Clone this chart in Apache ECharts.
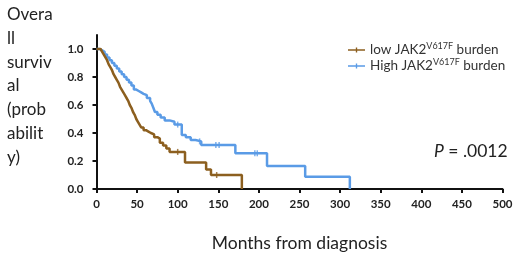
<!DOCTYPE html>
<html><head><meta charset="utf-8">
<script src="https://cdn.jsdelivr.net/npm/echarts@6/dist/echarts.min.js"></script>
<style>html,body{margin:0;padding:0;background:#fff}#c{width:520px;height:258px}</style>
</head><body><div id="c"></div>
<script>
const lowTimes = [0,5,7,9,11,13,15,17,19,21,23,25,27,29,31,33,35,37,39,41,43,45,47,49,51,53,55,58,61,64,67,71,75,78,82,86,90,109,135,141,179];
const lowSurv  = [1.0,0.99,0.98,0.96,0.94,0.92,0.89,0.87,0.85,0.82,0.80,0.78,0.76,0.73,0.71,0.69,0.67,0.65,0.63,0.60,0.58,0.55,0.53,0.50,0.48,0.46,0.44,0.42,0.41,0.40,0.39,0.37,0.36,0.33,0.31,0.29,0.265,0.19,0.14,0.10,0.0];
const highTimes = [0,4,7,10,13,16,19,22,25,28,31,34,37,40,43,46,49,52,55,58,62,66,68,70,72,75,79,84,90,96,105,110,116,122,129,171,210,257,312];
const highSurv  = [1.0,0.99,0.98,0.96,0.94,0.92,0.90,0.88,0.86,0.84,0.82,0.80,0.78,0.76,0.74,0.71,0.70,0.69,0.68,0.67,0.65,0.63,0.61,0.58,0.55,0.53,0.51,0.49,0.48,0.46,0.386,0.37,0.35,0.34,0.314,0.255,0.164,0.088,0.0];
const lowCensorT = [100,148];
const lowCensorS = [0.265,0.10];
const highCensorT = [100,127,147,151,195,198];
const highCensorS = [0.46,0.34,0.314,0.314,0.255,0.255];
const xTicks = [0,50,100,150,200,250,300,350,400,450,500];
const yTicks = [0,0.2,0.4,0.6,0.8,1.0];
const seriesNames = ['low', 'High'];

const brown = '#8C5F1F', blue = '#5A9BE6';
const zip = (a,b) => a.map((v,i)=>[v,b[i]]);
const chart = echarts.init(document.getElementById('c'));
const font = 'Lato, "Open Sans", sans-serif';
const iconPath = 'path://M0,3h20v1.6h-20z M9.2,1h1.6v5.6h-1.6z';
chart.setOption({
  animation:false,
  textStyle:{fontFamily:font},
  grid:{left:96.5, right:17.5, top:35, bottom:69},
  legend:{
    orient:'vertical', left:343, top:37, itemGap:1, itemWidth:17, itemHeight:7,
    data:[{name:seriesNames[0], icon:iconPath},{name:seriesNames[1], icon:iconPath}],
    formatter: n => '{a|' + n + ' JAK2}{s|V617F}{a| burden}',
    textStyle:{color:'#333', rich:{a:{fontSize:13.5, fontFamily:font, color:'#333'}, s:{fontSize:9, fontFamily:font, color:'#333', verticalAlign:'top', padding:[0,0,7,0]}}}
  },
  xAxis:{type:'value', min:0, max:500, interval:50,
    axisLine:{lineStyle:{color:'#111', width:2}},
    axisTick:{show:true, length:4, lineStyle:{color:'#111', width:2}},
    axisLabel:{color:'#222', fontWeight:'bold', fontSize:11.5, margin:9, fontFamily:font, customValues:xTicks},
    splitLine:{show:false},
    name:'Months from diagnosis', nameLocation:'middle', nameGap:45,
    nameTextStyle:{fontSize:17.5, color:'#222', fontFamily:font}
  },
  yAxis:{type:'value', min:0, max:1.1, interval:0.2,
    axisLine:{show:true, lineStyle:{color:'#111', width:2}},
    axisTick:{show:true, length:4, lineStyle:{color:'#111', width:2}, customValues:yTicks},
    axisLabel:{color:'#222', fontWeight:'bold', fontSize:11.5, margin:13, fontFamily:font, customValues:yTicks, formatter:v=>v.toFixed(1)},
    splitLine:{show:false}
  },
  graphic:[
    {type:'text', left:7, top:3, style:{text:'Overa\nll\nsurviv\nal\n(prob\nabilit\ny)', font:'17px '+font, fill:'#222', lineHeight:23.7}},
    {type:'text', left:434, top:142, style:{text:'{i|P} = .0012', font:'17.5px '+font, fill:'#222', rich:{i:{fontStyle:'italic', fontSize:17.5, fontFamily:font, fill:'#222'}}}}
  ],
  series:[
    {name:seriesNames[0], type:'line', step:'end', data:zip(lowTimes,lowSurv), showSymbol:false, symbol:'none', color:brown, lineStyle:{color:brown, width:2.5}, z:3},
    {name:seriesNames[1], type:'line', step:'end', data:zip(highTimes,highSurv), showSymbol:false, symbol:'none', color:blue, lineStyle:{color:blue, width:2.5}, z:2},
    {type:'scatter', data:zip(lowCensorT,lowCensorS), symbol:'rect', symbolSize:[1.5,6], itemStyle:{color:brown}, z:4},
    {type:'scatter', data:zip(highCensorT,highCensorS), symbol:'rect', symbolSize:[1.5,6], itemStyle:{color:blue}, z:4}
  ]
});
</script></body></html>
